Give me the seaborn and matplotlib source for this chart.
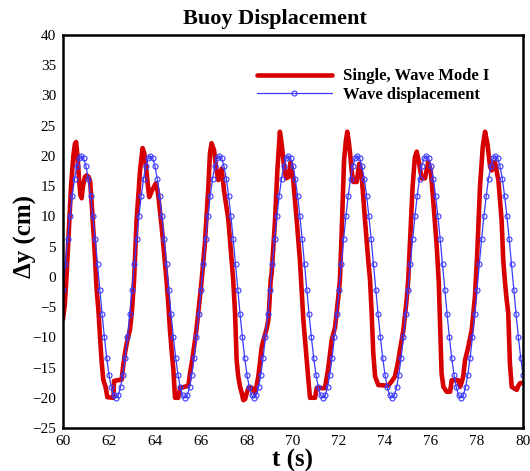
import matplotlib
matplotlib.use("Agg")
import numpy as np
import pandas as pd
import matplotlib.pyplot as plt
import seaborn as sns
from matplotlib.ticker import MultipleLocator

# ---- data -------------------------------------------------------------
# buoy response, single buoy in wave mode I (time in s, displacement in cm)
buoy_t = [
    60.00, 60.08, 60.16, 60.25, 60.35, 60.45, 60.52, 60.57, 60.63, 60.70,
    60.76, 60.81, 60.87, 60.95, 61.03, 61.12, 61.18, 61.25, 61.32, 61.39,
    61.46, 61.54, 61.61, 61.68, 61.75, 61.85, 61.93, 62.19, 62.22, 62.55,
    62.62, 62.70, 62.77, 62.84, 62.91, 62.99, 63.09,
    63.20, 63.35, 63.46, 63.53, 63.61, 63.68, 63.75, 63.82, 63.90, 64.04,
    64.10, 64.15, 64.29, 64.43, 64.50, 64.58, 64.65, 64.73, 64.80, 64.87,
    65.01, 65.09, 65.45, 65.52, 65.60, 65.74, 65.81, 65.88, 66.03,
    66.17, 66.32, 66.39, 66.46, 66.57, 66.66, 66.75, 66.82, 66.90, 67.00,
    67.19, 67.33, 67.40, 67.48, 67.55, 67.62, 67.70, 67.77, 67.84, 67.92,
    67.99, 68.06, 68.20, 68.27, 68.35, 68.42, 68.49, 68.57, 68.64, 68.71,
    68.78, 68.86, 68.93, 68.98, 69.03,
    69.07, 69.22, 69.32, 69.43, 69.49, 69.55, 69.62, 69.70, 69.80, 69.90,
    69.96, 70.01, 70.16, 70.30, 70.38, 70.45, 70.57, 70.67, 70.74, 70.96,
    71.03, 71.39, 71.46, 71.54, 71.68, 71.83, 71.97, 72.04,
    72.12, 72.22, 72.30, 72.36, 72.42, 72.48, 72.55, 72.62, 72.77, 72.88,
    72.99, 73.13, 73.27, 73.35, 73.42, 73.49, 73.57, 73.71, 74.14, 74.29,
    74.43, 74.58, 74.65, 74.80, 74.94, 75.01,
    75.09, 75.20, 75.30, 75.38, 75.49, 75.59, 75.74, 75.88, 75.99, 76.13,
    76.25, 76.34, 76.40, 76.46, 76.54, 76.68, 76.83, 76.90, 77.19, 77.26,
    77.33, 77.40, 77.48, 77.62, 77.77, 77.91, 78.01,
    78.13, 78.25, 78.35, 78.45, 78.57, 78.64, 78.78, 78.93, 79.07, 79.14,
    79.22, 79.29, 79.36, 79.43, 79.51, 79.73, 79.80, 79.87, 80.00,
]
buoy_dy = [
    -7.0, -4.5, 0.5, 7.5, 15.0, 20.0, 22.0, 22.3, 20.0, 16.0,
    13.5, 13.0, 15.0, 16.5, 16.8, 16.5, 15.8, 12.0, 7.7, 3.3,
    -2.0, -5.5, -10.0, -14.0, -17.0, -18.2, -19.9, -20.0, -17.2, -17.0,
    -14.6, -12.5, -11.0, -9.8, -8.8, -6.0, -0.5,
    9.4, 17.6, 21.3, 20.5, 18.2, 15.5, 13.2, 13.8, 14.5, 15.5,
    14.5, 13.2, 8.3, 2.3, -0.5, -4.5, -8.8, -12.5, -15.4, -20.0,
    -20.0, -18.4, -18.0, -16.0, -14.2, -10.5, -8.5, -6.0, -0.5,
    5.6, 14.9, 20.5, 22.1, 20.9, 18.0, 16.0, 16.5, 17.9, 14.3,
    9.4, 2.8, -0.5, -6.0, -13.8, -16.5, -18.2, -19.2, -20.4, -20.2,
    -19.2, -18.4, -18.3, -18.7, -19.3, -18.0, -16.5, -14.0, -11.6, -10.5,
    -9.6, -8.5, -7.1, -4.0, -0.5,
    0.5, 9.4, 17.6, 24.0, 22.5, 20.5, 18.0, 16.3, 16.5, 19.0,
    17.5, 16.0, 9.4, 2.8, -2.5, -7.1, -12.6, -17.1, -20.0, -20.0,
    -18.4, -18.4, -16.8, -14.9, -10.5, -8.3, -3.3, -0.5,
    7.7, 19.3, 22.5, 24.0, 22.5, 20.5, 17.5, 15.7, 15.7, 18.7,
    16.5, 9.4, 2.8, -0.5, -6.0, -12.6, -16.5, -17.9, -18.0, -17.3,
    -16.5, -13.8, -12.1, -8.8, -3.8, -0.5,
    6.1, 14.9, 19.8, 20.7, 18.7, 16.3, 16.3, 19.0, 17.6, 11.0,
    5.0, -1.0, -8.8, -16.0, -18.2, -19.0, -19.0, -17.1, -17.1, -18.2,
    -17.5, -16.5, -13.8, -11.6, -8.8, -3.3, 3.9,
    14.9, 21.5, 24.0, 22.1, 18.2, 17.6, 19.0, 16.0, 9.4, 2.8,
    -1.0, -3.8, -6.0, -14.3, -18.2, -18.7, -18.0, -17.6, -17.5,
]

# incident wave elevation, sampled every 0.1 s from 60.0 s to 80.0 s
wave_dt = 0.1
wave_dy = [
    -2.1, 2.1, 6.2, 10.0, 13.4, 16.2, 18.3, 19.6, 20.0, 19.6,
    18.3, 16.2, 13.4, 10.0, 6.2, 2.1, -2.1, -6.2, -10.0, -13.4,
    -16.2, -18.3, -19.6, -20.0, -19.6, -18.3, -16.2, -13.4, -10.0, -6.2,
    -2.1, 2.1, 6.2, 10.0, 13.4, 16.2, 18.3, 19.6, 20.0, 19.6,
    18.3, 16.2, 13.4, 10.0, 6.2, 2.1, -2.1, -6.2, -10.0, -13.4,
    -16.2, -18.3, -19.6, -20.0, -19.6, -18.3, -16.2, -13.4, -10.0, -6.2,
    -2.1, 2.1, 6.2, 10.0, 13.4, 16.2, 18.3, 19.6, 20.0, 19.6,
    18.3, 16.2, 13.4, 10.0, 6.2, 2.1, -2.1, -6.2, -10.0, -13.4,
    -16.2, -18.3, -19.6, -20.0, -19.6, -18.3, -16.2, -13.4, -10.0, -6.2,
    -2.1, 2.1, 6.2, 10.0, 13.4, 16.2, 18.3, 19.6, 20.0, 19.6,
    18.3, 16.2, 13.4, 10.0, 6.2, 2.1, -2.1, -6.2, -10.0, -13.4,
    -16.2, -18.3, -19.6, -20.0, -19.6, -18.3, -16.2, -13.4, -10.0, -6.2,
    -2.1, 2.1, 6.2, 10.0, 13.4, 16.2, 18.3, 19.6, 20.0, 19.6,
    18.3, 16.2, 13.4, 10.0, 6.2, 2.1, -2.1, -6.2, -10.0, -13.4,
    -16.2, -18.3, -19.6, -20.0, -19.6, -18.3, -16.2, -13.4, -10.0, -6.2,
    -2.1, 2.1, 6.2, 10.0, 13.4, 16.2, 18.3, 19.6, 20.0, 19.6,
    18.3, 16.2, 13.4, 10.0, 6.2, 2.1, -2.1, -6.2, -10.0, -13.4,
    -16.2, -18.3, -19.6, -20.0, -19.6, -18.3, -16.2, -13.4, -10.0, -6.2,
    -2.1, 2.1, 6.2, 10.0, 13.4, 16.2, 18.3, 19.6, 20.0, 19.6,
    18.3, 16.2, 13.4, 10.0, 6.2, 2.1, -2.1, -6.2, -10.0, -13.4,
    -16.2,
]
wave_t = np.round(60.0 + wave_dt * np.arange(len(wave_dy)), 2)

series_names = ["Single, Wave Mode I", "Wave displacement"]
x_ticks = [60, 62, 64, 66, 68, 70, 72, 74, 76, 78, 80]
y_ticks = [-25, -20, -15, -10, -5, 0, 5, 10, 15, 20, 25, 30, 35, 40]

buoy_df = pd.DataFrame({"t": buoy_t, "dy": buoy_dy})
wave_df = pd.DataFrame({"t": wave_t, "dy": wave_dy})

# ---- style ------------------------------------------------------------
sns.set_style("white")
plt.rcParams["font.family"] = ["Liberation Serif", "DejaVu Serif"]
for key in ("text.color", "axes.labelcolor", "xtick.color", "ytick.color",
            "axes.edgecolor"):
    plt.rcParams[key] = "black"

fig = plt.figure(figsize=(5.3, 4.71), dpi=100)
ax = fig.add_axes([63 / 530, 1 - 428 / 471, 460 / 530, 393 / 471])

sns.lineplot(data=buoy_df, x="t", y="dy", ax=ax, sort=False, estimator=None,
             color="#d60000", linewidth=3.3, label=series_names[0],
             solid_joinstyle="round", solid_capstyle="round")
sns.lineplot(data=wave_df, x="t", y="dy", ax=ax, sort=False, estimator=None,
             color="#3b3bff", linewidth=0.9, marker="o", markersize=3.6,
             markerfacecolor="none", markeredgecolor="#3b3bff",
             markeredgewidth=0.8, label=series_names[1])

ax.set_xlim(60, 80)
ax.set_ylim(-25, 40)
ax.set_xticks(x_ticks)
ax.set_yticks(y_ticks)
ax.xaxis.set_minor_locator(MultipleLocator(1))
ax.yaxis.set_minor_locator(MultipleLocator(1))
ax.tick_params(which="major", direction="in", length=10, width=1.8,
               top=False, right=False, labelsize=11, pad=5,
               colors="black", labelcolor="black")
ax.tick_params(which="minor", direction="in", length=5, width=1.0,
               top=False, right=False, colors="black")
for s in ax.spines.values():
    s.set_linewidth(1.8)
    s.set_color("black")

ax.set_xlabel("t (s)", fontsize=18, fontweight="bold", labelpad=1,
              color="black")
ax.set_ylabel("")
fig.text(25 / 530, 1 - 237 / 471, "\u0394y (cm)", rotation=90,
         ha="center", va="center", fontsize=18, fontweight="bold",
         color="black")

fig.text(275 / 530, 1 - 24 / 471, "Buoy Displacement", ha="center",
         va="baseline", fontsize=16, fontweight="bold", color="black")

leg = ax.legend(loc="upper left", bbox_to_anchor=(0.4217, 0.915),
                frameon=False, borderpad=0, borderaxespad=0,
                handlelength=4.5, handletextpad=0.65, labelspacing=0.15,
                numpoints=1, prop={"weight": "bold", "size": 12})
for txt in leg.get_texts():
    txt.set_color("black")

fig.savefig("out.png", dpi=100)
